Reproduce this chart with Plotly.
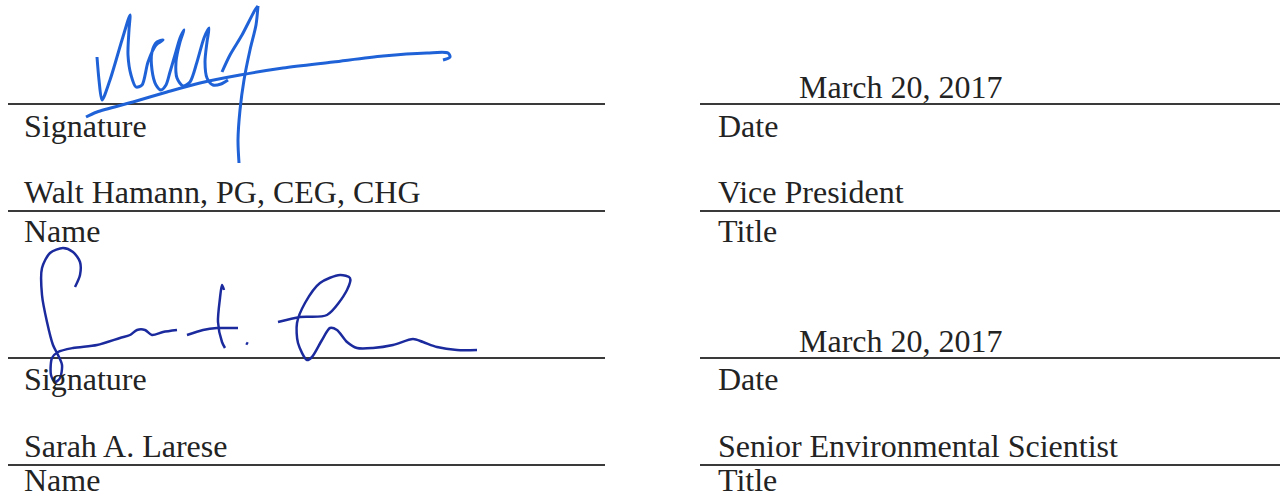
import plotly.graph_objects as go

# ---------------- data ----------------
W, H = 1283, 498

# signature rules (y of each rule) and horizontal extents of left/right columns
rule_y = [104, 211, 358, 465]
left_col = [8, 605]
right_col = [700, 1280]

left_texts = ["Signature", "Walt Hamann, PG, CEG, CHG", "Name",
              "Signature", "Sarah A. Larese", "Name"]
left_text_y = [126, 192, 231, 379, 446, 480]
left_text_x = [22, 22, 22, 22, 22, 22]

right_texts = ["March 20, 2017", "Date", "Vice President", "Title",
               "March 20, 2017", "Date", "Senior Environmental Scientist", "Title"]
right_text_y = [87, 126, 192, 231, 341, 379, 446, 480]
right_text_x = [797, 716, 716, 716, 797, 716, 716, 716]

# handwritten signature strokes (pixel coords)
walt_main_x = [97, 99, 102, 110, 122, 130, 129, 128, 131, 136, 142, 148, 156, 163, 157, 152, 152, 156, 161, 166, 170,
               175, 180, 184, 180, 176, 177, 183, 190, 197, 204, 209, 207, 205, 207, 213, 221, 228]
walt_main_y = [57, 80, 100, 80, 40, 15, 30, 55, 75, 87, 85, 62, 45, 40, 42, 52, 70, 85, 90, 85, 72,
               55, 38, 30, 42, 62, 78, 86, 82, 62, 38, 28, 42, 62, 78, 85, 84, 80]
walt_seven_x = [222, 230, 242, 255, 258]
walt_seven_y = [72, 55, 35, 10, 6]
walt_j_x = [258, 256, 250, 244, 240, 238, 239]
walt_j_y = [6, 25, 50, 80, 110, 140, 163]
walt_cross_x = [86, 97, 133, 167, 200, 240, 283, 333, 383, 427, 448, 450, 443]
walt_cross_y = [117, 112, 102, 92, 83, 75, 68, 62, 56, 53, 53, 57, 60]

sarah_s_x = [75, 80, 80, 73, 63, 50, 42, 42, 47, 53, 58, 62, 60, 55, 51, 52, 58, 73, 97, 120, 130, 137, 145, 152, 163, 177]
sarah_s_y = [287, 275, 262, 252, 248, 253, 268, 295, 322, 345, 355, 365, 378, 382, 375, 358, 352, 348, 345, 338, 335, 330, 330, 335, 332, 330]
sarah_t_x = [224, 222, 220, 218, 222, 225]
sarah_t_y = [290, 285, 298, 322, 342, 348]
sarah_tcross_x = [187, 203, 217, 230, 238]
sarah_tcross_y = [335, 330, 328, 328, 328]
sarah_dot_x = [246, 248]
sarah_dot_y = [343, 344]
sarah_l_x = [278, 300, 327, 347, 350, 340, 320, 305, 297, 298, 307, 312, 322, 330, 337, 347, 357, 373, 393, 413, 423, 437, 457, 477]
sarah_l_y = [322, 317, 315, 290, 278, 275, 283, 303, 323, 343, 360, 357, 340, 328, 330, 342, 348, 348, 345, 339, 342, 347, 350, 350]

walt_color = "#1f62d8"
sarah_color = "#1b2b9e"
ink = "#232323"
rule_color = "#3a3a3a"
font_family = "Liberation Serif, Times New Roman, serif"
font_size = 32

# ---------------- figure ----------------
fig = go.Figure()

for y in rule_y:
    for col in (left_col, right_col):
        fig.add_trace(go.Scatter(x=col, y=[y, y], mode="lines",
                                 line=dict(color=rule_color, width=2),
                                 hoverinfo="skip", showlegend=False))

strokes = [
    (walt_main_x, walt_main_y, walt_color, 3),
    (walt_seven_x, walt_seven_y, walt_color, 3),
    (walt_j_x, walt_j_y, walt_color, 3),
    (walt_cross_x, walt_cross_y, walt_color, 3),
    (sarah_s_x, sarah_s_y, sarah_color, 2.5),
    (sarah_t_x, sarah_t_y, sarah_color, 2.5),
    (sarah_tcross_x, sarah_tcross_y, sarah_color, 2.5),
    (sarah_dot_x, sarah_dot_y, sarah_color, 3),
    (sarah_l_x, sarah_l_y, sarah_color, 2.5),
]
for xs, ys, c, w in strokes:
    fig.add_trace(go.Scatter(x=xs, y=ys, mode="lines",
                             line=dict(color=c, width=w, shape="spline", smoothing=0.8),
                             hoverinfo="skip", showlegend=False))

for xs, ys, ts in ((left_text_x, left_text_y, left_texts),
                   (right_text_x, right_text_y, right_texts)):
    for x, y, t in zip(xs, ys, ts):
        fig.add_annotation(x=x, y=y, text=t, showarrow=False,
                           xanchor="left", yanchor="middle",
                           font=dict(family=font_family, size=font_size, color=ink))

fig.update_layout(
    width=W, height=H,
    margin=dict(l=0, r=0, t=0, b=0),
    paper_bgcolor="white", plot_bgcolor="white",
    xaxis=dict(range=[0, W], visible=False, fixedrange=True),
    yaxis=dict(range=[H, 0], visible=False, fixedrange=True),
)

fig.write_html("out.html", config={"displayModeBar": False},
               post_script="document.body.style.margin='0';document.body.style.overflow='hidden';")
